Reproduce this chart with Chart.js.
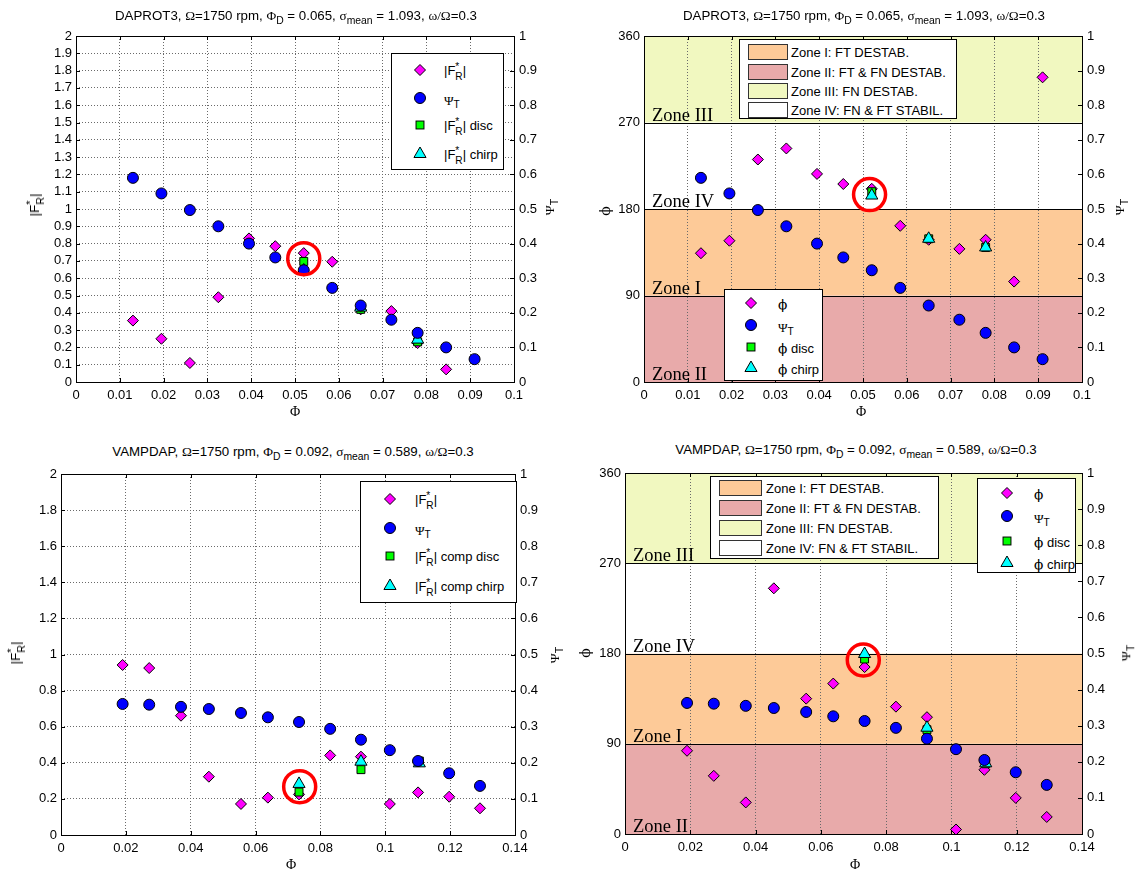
<!DOCTYPE html>
<html>
<head>
<meta charset="utf-8">
<title>DAPROT3 / VAMPDAP</title>
<script src="https://cdn.jsdelivr.net/npm/chart.js@4.4.1/dist/chart.umd.min.js"></script>
<style>
  body { margin: 0; background: #fff; font-family: "Liberation Sans", Arial, sans-serif; color: #000; }
  #page { position: relative; width: 1136px; height: 872px; overflow: hidden; }
  canvas { position: absolute; }
  .t { position: absolute; white-space: nowrap; transform: translate(-50%, -50%); line-height: 1; z-index: 3; }
  .title { font-size: 13.3px; }
  .ylab { font-size: 13.5px; transform: translate(-50%, -50%) rotate(-90deg); }
  .xlab { font-size: 14px; font-family: "Liberation Serif", serif; }
  .g { font-family: "Liberation Serif", serif; }
  .ph { font-family: "DejaVu Serif", serif; font-size: 1.05em; }
  sub { font-size: 0.78em; vertical-align: -0.38em; line-height: 0; }
  .ss { display: inline-block; vertical-align: -0.5em; font-size: 0.78em; line-height: 0.95; }
  .ss span { display: block; }
  .leg { position: absolute; background: #fff; border: 1px solid #000; box-sizing: border-box; font-size: 13px; z-index: 2; }
  .leg .row { position: absolute; white-space: nowrap; transform: translateY(-50%); line-height: 1; }
  .leg svg { position: absolute; overflow: visible; }
  .sw { position: absolute; border: 1px solid #333; box-sizing: border-box; }
</style>
</head>
<body>
<div id="page">
  <div class="t title" style="left:296px;top:16px">DAPROT3, <span class="g">Ω</span>=1750 rpm, <span class="g">Φ</span><sub>D</sub> = 0.065, <span class="g">σ</span><sub>mean</sub> = 1.093, <span class="g">ω/Ω</span>=0.3</div>
  <div class="t title" style="left:864px;top:16px">DAPROT3, <span class="g">Ω</span>=1750 rpm, <span class="g">Φ</span><sub>D</sub> = 0.065, <span class="g">σ</span><sub>mean</sub> = 1.093, <span class="g">ω/Ω</span>=0.3</div>
  <div class="t title" style="left:293px;top:452px">VAMPDAP, <span class="g">Ω</span>=1750 rpm, <span class="g">Φ</span><sub>D</sub> = 0.092, <span class="g">σ</span><sub>mean</sub> = 0.589, <span class="g">ω/Ω</span>=0.3</div>
  <div class="t title" style="left:856px;top:450px">VAMPDAP, <span class="g">Ω</span>=1750 rpm, <span class="g">Φ</span><sub>D</sub> = 0.092, <span class="g">σ</span><sub>mean</sub> = 0.589, <span class="g">ω/Ω</span>=0.3</div>

  <div class="t ylab" style="left:35px;top:205px">|F<span class="ss"><span>*</span><span>R</span></span>|</div>
  <div class="t ylab" style="left:550px;top:207px"><span class="g">Ψ</span><sub>T</sub></div>
  <div class="t ylab" style="left:605px;top:211px"><span class="ph">ϕ</span></div>
  <div class="t ylab" style="left:1120px;top:207px"><span class="g">Ψ</span><sub>T</sub></div>
  <div class="t ylab" style="left:16px;top:653px">|F<span class="ss"><span>*</span><span>R</span></span>|</div>
  <div class="t ylab" style="left:555px;top:655px"><span class="g">Ψ</span><sub>T</sub></div>
  <div class="t ylab" style="left:585px;top:653px"><span class="ph">ϕ</span></div>
  <div class="t ylab" style="left:1126px;top:653px"><span class="g">Ψ</span><sub>T</sub></div>

  <div class="t xlab" style="left:295px;top:412px">Φ</div>
  <div class="t xlab" style="left:861px;top:412px">Φ</div>
  <div class="t xlab" style="left:291px;top:865px">Φ</div>
  <div class="t xlab" style="left:855px;top:865px">Φ</div>
</div>
<script>
// ---- values ----
// DAPROT3 (top row)
const topFlow = [0.013, 0.0195, 0.026, 0.0325, 0.0395, 0.0455, 0.052, 0.0585, 0.065, 0.072, 0.078, 0.0845, 0.091];
const topForce = [0.355, 0.25, 0.11, 0.49, 0.83, 0.785, 0.745, 0.695, 0.42, 0.41, 0.225, 0.073, null];
const topPsi = [0.59, 0.545, 0.497, 0.45, 0.40, 0.36, 0.323, 0.272, 0.221, 0.18, 0.142, 0.10, 0.066];
const topPhase = [134, 147, 231.5, 243, 216.5, 206, 201, 162.5, 148, 138.5, 148, 104.5, 317];
const topCompFlow = [0.052, 0.065, 0.078];
const topForceDisc = [0.697, 0.42, 0.232];
const topForceChirp = [0.645, 0.43, 0.245];
const topPhaseDisc = [198, 149, 140];
const topPhaseChirp = [194, 149, 140];
const topRingForce = [0.052, 0.713];
const topRingPhase = [0.0515, 195];

// VAMPDAP (bottom row)
const botFlow = [0.019, 0.0272, 0.037, 0.0456, 0.0555, 0.0638, 0.0734, 0.083, 0.0925, 0.1014, 0.1101, 0.1197, 0.1292];
const botForce = [0.942, 0.925, 0.661, 0.323, 0.172, 0.207, 0.225, 0.441, 0.434, 0.172, 0.236, 0.212, 0.148];
const botPsi = [0.363, 0.361, 0.355, 0.349, 0.338, 0.326, 0.313, 0.294, 0.264, 0.235, 0.205, 0.171, 0.136];
const botPhase = [83, 58, 31.5, 245, 135, 150, 166.5, 127, 116.5, 4.5, 64, 36, 17];
const botCompFlow = [0.0734, 0.0925, 0.1105];
const botForceDisc = [0.238, 0.362, 0.41];
const botForceChirp = [0.283, 0.406, 0.397];
const botPhaseDisc = [174.5, 104, 70];
const botPhaseChirp = [179.5, 106, 70.5];
const botRingForce = [0.0736, 0.268];
const botRingPhase = [0.073, 173.5];

// axes
const topFlowTicks = [0, 0.01, 0.02, 0.03, 0.04, 0.05, 0.06, 0.07, 0.08, 0.09, 0.1];
const botFlowTicks = [0, 0.02, 0.04, 0.06, 0.08, 0.1, 0.12, 0.14];
const topForceTicks = [0, 0.1, 0.2, 0.3, 0.4, 0.5, 0.6, 0.7, 0.8, 0.9, 1, 1.1, 1.2, 1.3, 1.4, 1.5, 1.6, 1.7, 1.8, 1.9, 2];
const botForceTicks = [0, 0.2, 0.4, 0.6, 0.8, 1, 1.2, 1.4, 1.6, 1.8, 2];
const psiTicks = [0, 0.1, 0.2, 0.3, 0.4, 0.5, 0.6, 0.7, 0.8, 0.9, 1];
const phaseTicks = [0, 90, 180, 270, 360];

// stability zones, bottom to top
const zoneEdges = [0, 90, 180, 270, 360];
const zoneTags = ['Zone II', 'Zone I', 'Zone IV', 'Zone III'];
const zoneFills = ['#e8aaaa', '#fdca98', '#ffffff', '#f1f8c0'];
const zoneLegendText = ['Zone I: FT DESTAB.', 'Zone II: FT & FN DESTAB.', 'Zone III: FN DESTAB.', 'Zone IV: FN & FT STABIL.'];
const zoneLegendFill = ['#fdca98', '#e8aaaa', '#f1f8c0', '#ffffff'];

const forceLabel = '|F<span class="ss"><span>*</span><span>R</span></span>|';
const psiLabel = '<span class="g">Ψ</span><sub>T</sub>';
const phaseLabel = '<span class="ph">ϕ</span>';
const topForceLegend = [forceLabel, psiLabel, forceLabel + ' disc', forceLabel + ' chirp'];
const botForceLegend = [forceLabel, psiLabel, forceLabel + ' comp disc', forceLabel + ' comp chirp'];
const phaseLegend = [phaseLabel, psiLabel, phaseLabel + ' disc', phaseLabel + ' chirp'];

// ---- styles ----
const MARK = {
  diamond: { style: 'rectRot', r: 5.5, fill: '#ff00ff' },
  circle: { style: 'circle', r: 5.5, fill: '#0000ff' },
  square: { style: 'rect', r: 5.6, fill: '#00ff00' },
  triangle: { style: 'triangle', r: 7, fill: '#00ffff' }
};
const GRID = '#6a6a6a';
const AX_L = 46, AX_R = 46, PAD_T = 10, AX_B = 26;
const page = document.getElementById('page');

function pts(xs, ys) {
  const out = [];
  for (let i = 0; i < xs.length; i++) {
    if (ys[i] !== null) out.push({ x: xs[i], y: ys[i] });
  }
  return out;
}

function markerSet(shape, data, axis, order) {
  const m = MARK[shape];
  return {
    data: data, yAxisID: axis, order: order,
    pointStyle: m.style, pointRadius: m.r, pointHoverRadius: m.r,
    pointBackgroundColor: m.fill, pointBorderColor: '#000', pointBorderWidth: 1
  };
}

// zone bands, boundary lines, zone names, box frame and inward ticks
const panelDecor = {
  id: 'panelDecor',
  beforeDraw(chart, args, o) {
    if (!o.zones) return;
    const ctx = chart.ctx, a = chart.chartArea, y = chart.scales.y;
    for (let i = 0; i < zoneFills.length; i++) {
      const y0 = y.getPixelForValue(zoneEdges[i + 1]);
      const y1 = y.getPixelForValue(zoneEdges[i]);
      ctx.fillStyle = zoneFills[i];
      ctx.fillRect(a.left, y0, a.right - a.left, y1 - y0);
    }
  },
  beforeDatasetsDraw(chart, args, o) {
    if (!o.zones) return;
    const ctx = chart.ctx, a = chart.chartArea, y = chart.scales.y;
    ctx.save();
    ctx.strokeStyle = '#000';
    ctx.lineWidth = 1.2;
    for (let i = 1; i < zoneEdges.length - 1; i++) {
      const py = Math.round(y.getPixelForValue(zoneEdges[i])) + 0.5;
      ctx.beginPath();
      ctx.moveTo(a.left, py);
      ctx.lineTo(a.right, py);
      ctx.stroke();
    }
    ctx.fillStyle = '#000';
    ctx.font = '18.5px "Liberation Serif", "Times New Roman", serif';
    ctx.textBaseline = 'alphabetic';
    for (let i = 0; i < zoneTags.length; i++) {
      ctx.fillText(zoneTags[i], a.left + 8, y.getPixelForValue(zoneEdges[i]) - 2);
    }
    ctx.restore();
  },
  afterDraw(chart, args, o) {
    const ctx = chart.ctx, a = chart.chartArea, s = chart.scales;
    ctx.save();
    ctx.strokeStyle = '#000';
    ctx.lineWidth = 1;
    ctx.beginPath();
    o.xTicks.forEach(v => {
      const px = Math.round(s.x.getPixelForValue(v)) + 0.5;
      ctx.moveTo(px, a.bottom); ctx.lineTo(px, a.bottom - 4);
      ctx.moveTo(px, a.top); ctx.lineTo(px, a.top + 4);
    });
    o.yTicks.forEach(v => {
      const py = Math.round(s.y.getPixelForValue(v)) + 0.5;
      ctx.moveTo(a.left, py); ctx.lineTo(a.left + 4, py);
    });
    psiTicks.forEach(v => {
      const py = Math.round(s.y2.getPixelForValue(v)) + 0.5;
      ctx.moveTo(a.right, py); ctx.lineTo(a.right - 4, py);
    });
    ctx.stroke();
    ctx.strokeRect(Math.round(a.left) + 0.5, Math.round(a.top) + 0.5, Math.round(a.right - a.left), Math.round(a.bottom - a.top));
    ctx.restore();
  }
};

function tickFont() {
  return { family: '"Liberation Sans", Arial, sans-serif', size: 13 };
}
function fmt(v) { return String(+Number(v).toFixed(4)); }

// keep the plot box exactly where it is asked for: no extra room for label overhang
function fixY(width) {
  return s => { s.width = width; s.paddingTop = 0; s.paddingBottom = 0; };
}

function panel(area, o) {
  const cv = document.createElement('canvas');
  cv.width = area.r - area.l + AX_L + AX_R;
  cv.height = area.b - area.t + PAD_T + AX_B;
  cv.style.left = (area.l - AX_L) + 'px';
  cv.style.top = (area.t - PAD_T) + 'px';
  page.appendChild(cv);

  const ring = {
    data: [{ x: o.ring[0], y: o.ring[1] }], yAxisID: 'y', order: 0,
    pointStyle: 'circle', pointRadius: 16, pointHoverRadius: 16,
    pointBackgroundColor: 'rgba(0,0,0,0)', pointBorderColor: '#ff0000', pointBorderWidth: 3.5
  };

  new Chart(cv, {
    type: 'scatter',
    data: {
      datasets: [
        ring,
        markerSet('circle', pts(o.flow, o.psi), 'y2', 1),
        markerSet('triangle', pts(o.compFlow, o.chirp), 'y', 2),
        markerSet('square', pts(o.compFlow, o.disc), 'y', 3),
        markerSet('diamond', pts(o.flow, o.main), 'y', 4)
      ]
    },
    options: {
      responsive: false,
      animation: false,
      devicePixelRatio: 1,
      layout: { autoPadding: false, padding: { top: PAD_T, left: 0, right: 0, bottom: 0 } },
      plugins: {
        legend: { display: false },
        tooltip: { enabled: false },
        panelDecor: { zones: o.zones, xTicks: o.xTicks, yTicks: o.yTicks }
      },
      scales: {
        x: {
          type: 'linear', position: 'bottom', min: 0, max: o.xTicks[o.xTicks.length - 1],
          afterBuildTicks: s => { s.ticks = o.xTicks.map(v => ({ value: v })); },
          afterFit: s => { s.height = AX_B; s.paddingLeft = 0; s.paddingRight = 0; },
          grid: { display: true, color: GRID, lineWidth: 1, drawTicks: false },
          border: { display: false, dash: [1, 2] },
          ticks: { autoSkip: false, maxRotation: 0, padding: 6, color: '#000', font: tickFont(), callback: fmt }
        },
        y: {
          type: 'linear', position: 'left', min: 0, max: o.yTicks[o.yTicks.length - 1],
          afterBuildTicks: s => { s.ticks = o.yTicks.map(v => ({ value: v })); },
          afterFit: fixY(AX_L),
          grid: { display: !o.zones, color: GRID, lineWidth: 1, drawTicks: false },
          border: { display: false, dash: [1, 2] },
          ticks: { autoSkip: false, padding: 4, color: '#000', font: tickFont(), callback: fmt }
        },
        y2: {
          type: 'linear', position: 'right', min: 0, max: 1,
          afterBuildTicks: s => { s.ticks = psiTicks.map(v => ({ value: v })); },
          afterFit: fixY(AX_R),
          grid: { display: false, drawTicks: false },
          border: { display: false },
          ticks: { autoSkip: false, padding: 5, color: '#000', font: tickFont(), callback: fmt }
        }
      }
    },
    plugins: [panelDecor]
  });
}

function svgMarker(shape, cx, cy) {
  const m = MARK[shape];
  let el;
  if (shape === 'circle') el = '<circle cx="0" cy="0" r="' + m.r + '"/>';
  else if (shape === 'diamond') el = '<polygon points="0,-' + m.r + ' ' + m.r + ',0 0,' + m.r + ' -' + m.r + ',0"/>';
  else if (shape === 'square') { const h = m.r * Math.SQRT1_2; el = '<rect x="' + (-h) + '" y="' + (-h) + '" width="' + 2 * h + '" height="' + 2 * h + '"/>'; }
  else { const r = m.r, c = r * Math.cos(Math.PI / 6), s = r * 0.5; el = '<polygon points="0,-' + r + ' ' + c + ',' + s + ' -' + c + ',' + s + '"/>'; }
  return '<svg width="1" height="1" style="left:' + cx + 'px;top:' + cy + 'px"><g fill="' + m.fill + '" stroke="#000" stroke-width="1">' + el + '</g></svg>';
}

function markerLegend(box, labels, markX, textX, rows) {
  const shapes = ['diamond', 'circle', 'square', 'triangle'];
  const d = document.createElement('div');
  d.className = 'leg';
  d.style.cssText = 'left:' + box[0] + 'px;top:' + box[1] + 'px;width:' + box[2] + 'px;height:' + box[3] + 'px';
  let html = '';
  for (let i = 0; i < labels.length; i++) {
    html += svgMarker(shapes[i], markX, rows[i]);
    html += '<div class="row" style="left:' + textX + 'px;top:' + (rows[i] + 2) + 'px">' + labels[i] + '</div>';
  }
  d.innerHTML = html;
  page.appendChild(d);
}

function zoneLegend(box, swX, swW, textX, rows) {
  const d = document.createElement('div');
  d.className = 'leg';
  d.style.cssText = 'left:' + box[0] + 'px;top:' + box[1] + 'px;width:' + box[2] + 'px;height:' + box[3] + 'px';
  let html = '';
  for (let i = 0; i < zoneLegendText.length; i++) {
    html += '<div class="sw" style="left:' + swX + 'px;top:' + (rows[i] - 8) + 'px;width:' + swW + 'px;height:16px;background:' + zoneLegendFill[i] + '"></div>';
    html += '<div class="row" style="left:' + textX + 'px;top:' + rows[i] + 'px">' + zoneLegendText[i] + '</div>';
  }
  d.innerHTML = html;
  page.appendChild(d);
}

panel({ l: 76, r: 514, t: 36, b: 382 }, {
  flow: topFlow, main: topForce, psi: topPsi, compFlow: topCompFlow,
  disc: topForceDisc, chirp: topForceChirp, ring: topRingForce,
  xTicks: topFlowTicks, yTicks: topForceTicks, zones: false
});
panel({ l: 644, r: 1082, t: 36, b: 382 }, {
  flow: topFlow, main: topPhase, psi: topPsi, compFlow: topCompFlow,
  disc: topPhaseDisc, chirp: topPhaseChirp, ring: topRingPhase,
  xTicks: topFlowTicks, yTicks: phaseTicks, zones: true
});
panel({ l: 61, r: 515, t: 474, b: 835 }, {
  flow: botFlow, main: botForce, psi: botPsi, compFlow: botCompFlow,
  disc: botForceDisc, chirp: botForceChirp, ring: botRingForce,
  xTicks: botFlowTicks, yTicks: botForceTicks, zones: false
});
panel({ l: 625, r: 1082, t: 473, b: 834 }, {
  flow: botFlow, main: botPhase, psi: botPsi, compFlow: botCompFlow,
  disc: botPhaseDisc, chirp: botPhaseChirp, ring: botRingPhase,
  xTicks: botFlowTicks, yTicks: phaseTicks, zones: true
});

markerLegend([391, 53, 113, 117], topForceLegend, 28, 52, [16, 44, 71, 100]);
markerLegend([724, 289, 99, 92], phaseLegend, 26, 53, [13, 35, 57, 78]);
markerLegend([360, 481, 157, 122], botForceLegend, 29, 54, [17, 46, 74, 104]);
markerLegend([977, 478, 99, 95], phaseLegend, 29, 56, [14, 37, 62, 84]);
zoneLegend([739, 39, 218, 80], 8, 40, 51, [12, 32, 51, 70]);
zoneLegend([710, 476, 229, 83], 8, 43, 55, [11, 31, 51, 71]);
</script>
</body>
</html>
